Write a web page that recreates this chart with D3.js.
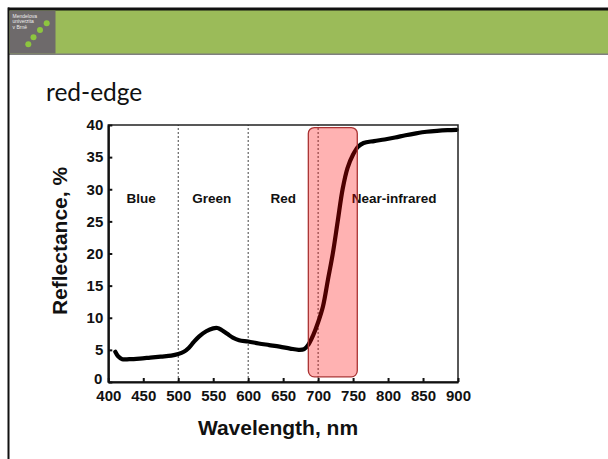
<!DOCTYPE html>
<html>
<head>
<meta charset="utf-8">
<script src="https://cdn.jsdelivr.net/npm/d3@7"></script>
<style>
  body { margin: 0; background: #fff; }
  svg { display: block; }
</style>
</head>
<body>
<div id="chart"></div>
<script>
// spectral reflectance of green vegetation
const wavelengths = [410, 414, 420, 430, 445, 460, 475, 490, 500, 508, 515, 522, 530, 540, 550, 556, 562, 570, 578, 587,
    600, 615, 630, 645, 660, 672, 680, 686, 693, 700, 707, 714, 721, 728, 735, 742, 750, 757, 765, 780,
    795, 810, 825, 840, 855, 870, 885, 898];
const reflectance = [4.7, 4.0, 3.55, 3.55, 3.65, 3.8, 3.95, 4.1, 4.35, 4.7, 5.3, 6.2, 7.1, 7.9, 8.35, 8.4, 8.1, 7.5, 6.9, 6.5,
    6.3, 6.0, 5.75, 5.5, 5.2, 5.0, 5.1, 5.8, 7.3, 9.3, 11.8, 15.9, 20.0, 25.0, 30.0, 33.3, 35.4, 36.6, 37.2, 37.5,
    37.75, 38.05, 38.4, 38.7, 38.95, 39.1, 39.2, 39.25];

const xTicks = [400, 450, 500, 550, 600, 650, 700, 750, 800, 850, 900];
const yTicks = [0, 5, 10, 15, 20, 25, 30, 35, 40];
const bandBorders = [500, 600, 700];
const bandNames = ["Blue", "Green", "Red", "Near-infrared"];
const bandLabelX = [447, 548, 650, 748];
const redEdge = [686, 756];      // highlighted wavelength range
const redEdgeY = [0.8, 39.6];

const W = 608, H = 459;
const svg = d3.select("#chart").append("svg")
    .attr("width", W)
    .attr("height", H);

// slide header
svg.append("rect").attr("x", 8).attr("y", 10).attr("width", W - 8).attr("height", 44).attr("fill", "#9bbb59");
svg.append("rect").attr("x", 8).attr("y", 7.5).attr("width", W - 8).attr("height", 3).attr("fill", "#111");
svg.append("rect").attr("x", 8).attr("y", 53.5).attr("width", W - 8).attr("height", 1.5).attr("fill", "#7f7f7f");
svg.append("rect").attr("x", 7.5).attr("y", 7.5).attr("width", 2).attr("height", H).attr("fill", "#111");

// logo
svg.append("rect").attr("x", 9.5).attr("y", 10.5).attr("width", 46).attr("height", 43).attr("fill", "#6e6a6b");
["Mendelova", "univerzita", "v Brně"].forEach((t, i) => {
    svg.append("text").attr("x", 12.5).attr("y", 17.5 + i * 5.5)
        .attr("font-family", "Liberation Sans, Arial, sans-serif")
        .attr("font-size", 5).attr("fill", "#eee").text(t);
});
[[46.7, 23.3], [40, 30], [33.5, 37.2], [28.3, 44.3]].forEach(p => {
    svg.append("circle").attr("cx", p[0]).attr("cy", p[1]).attr("r", 3).attr("fill", "#8dc63f");
});

// slide title
svg.append("text")
    .attr("x", 46).attr("y", 101)
    .attr("font-family", "Lato, sans-serif")
    .attr("font-size", 24.5)
    .attr("fill", "#111")
    .text("red-edge");

// plot area
const margin = { top: 125, left: 108.3 };
const width = 458 - margin.left, height = 382 - margin.top;

const g = svg.append("g").attr("transform", `translate(${margin.left},${margin.top})`);

const x = d3.scaleLinear().domain([400, 900]).range([0, width]);
const y = d3.scaleLinear().domain([0, 40]).range([height, 0]);

// band separators
g.selectAll(".band")
    .data(bandBorders)
    .join("line")
    .attr("x1", d => x(d)).attr("x2", d => x(d))
    .attr("y1", y(0)).attr("y2", y(40))
    .attr("stroke", "#444")
    .attr("stroke-width", 1)
    .attr("stroke-dasharray", "2,2");

// band labels
g.selectAll(".bandLabel")
    .data(bandNames)
    .join("text")
    .attr("x", (d, i) => x(bandLabelX[i]))
    .attr("y", y(27.8))
    .attr("text-anchor", (d, i) => i === 3 ? "start" : "middle")
    .attr("font-family", "Liberation Sans, Arial, sans-serif")
    .attr("font-weight", "bold")
    .attr("font-size", 13.5)
    .attr("fill", "#111")
    .text(d => d);

// reflectance curve
const line = d3.line()
    .x(d => x(d[0]))
    .y(d => y(d[1]))
    .curve(d3.curveCatmullRom);

g.append("path")
    .datum(wavelengths.map((w, i) => [w, reflectance[i]]))
    .attr("d", line)
    .attr("fill", "none")
    .attr("stroke", "#000")
    .attr("stroke-width", 4.2)
    .attr("stroke-linecap", "round");

// red-edge highlight
g.append("rect")
    .attr("x", x(redEdge[0]))
    .attr("y", y(redEdgeY[1]))
    .attr("width", x(redEdge[1]) - x(redEdge[0]))
    .attr("height", y(redEdgeY[0]) - y(redEdgeY[1]))
    .attr("rx", 6)
    .attr("fill", "rgba(255,0,0,0.3)")
    .attr("stroke", "#a33")
    .attr("stroke-width", 1.3);

// frame
g.append("rect")
    .attr("width", width).attr("height", height)
    .attr("fill", "none")
    .attr("stroke", "#222")
    .attr("stroke-width", 1.5);

// axes
const xAxis = g.append("g")
    .attr("transform", `translate(0,${height})`)
    .call(d3.axisBottom(x).tickValues(xTicks).tickSizeInner(-4).tickSizeOuter(0).tickPadding(8));
const yAxis = g.append("g")
    .call(d3.axisLeft(y).tickValues(yTicks).tickSizeInner(-4).tickSizeOuter(0).tickPadding(5));

[xAxis, yAxis].forEach(a => {
    a.select(".domain").attr("stroke", "#111").attr("stroke-width", 2.2);
    a.selectAll(".tick line").attr("stroke", "#111").attr("stroke-width", 2);
    a.selectAll("text")
        .attr("font-family", "Liberation Sans, Arial, sans-serif")
        .attr("font-weight", "bold")
        .attr("font-size", 15)
        .attr("fill", "#111");
});
// the "0" sits just above-left of "400", as in the figure
yAxis.selectAll(".tick text").filter(d => d === 0).attr("dy", "0.1em").attr("x", -6);

// axis titles
svg.append("text")
    .attr("x", 278).attr("y", 435)
    .attr("text-anchor", "middle")
    .attr("font-family", "Liberation Sans, Arial, sans-serif")
    .attr("font-weight", "bold")
    .attr("font-size", 21)
    .attr("fill", "#111")
    .text("Wavelength, nm");

svg.append("text")
    .attr("transform", "translate(67,241) rotate(-90)")
    .attr("text-anchor", "middle")
    .attr("font-family", "Liberation Sans, Arial, sans-serif")
    .attr("font-weight", "bold")
    .attr("font-size", 21)
    .attr("fill", "#111")
    .text("Reflectance, %");
</script>
</body>
</html>
